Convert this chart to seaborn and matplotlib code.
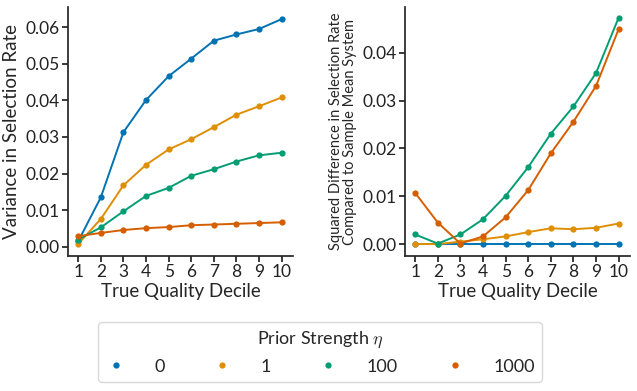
import pandas as pd
import matplotlib.pyplot as plt
import seaborn as sns
from matplotlib.lines import Line2D

deciles = list(range(1, 11))
strengths = ["0", "1", "100", "1000"]

# variance in selection rate
var_0 = [0.0015, 0.0135, 0.0313, 0.0401, 0.0466, 0.0514, 0.0563, 0.0580, 0.0595, 0.0622]
var_1 = [0.0008, 0.0076, 0.0168, 0.0224, 0.0266, 0.0294, 0.0327, 0.0361, 0.0384, 0.0408]
var_100 = [0.0020, 0.0053, 0.0097, 0.0139, 0.0161, 0.0194, 0.0212, 0.0233, 0.0250, 0.0257]
var_1000 = [0.0029, 0.0038, 0.0046, 0.0051, 0.0054, 0.0059, 0.0061, 0.0063, 0.0065, 0.0067]

# squared difference vs sample mean system
sq_0 = [0.0, 0.0, 0.0, 0.0, 0.0, 0.0, 0.0, 0.0, 0.0, 0.0]
sq_1 = [0.0, 0.0, 0.0005, 0.0010, 0.0016, 0.0025, 0.0033, 0.0031, 0.0034, 0.0043]
sq_100 = [0.0020, 0.0001, 0.0020, 0.0052, 0.0101, 0.0161, 0.0231, 0.0288, 0.0358, 0.0474]
sq_1000 = [0.0107, 0.0045, 0.0001, 0.0016, 0.0056, 0.0113, 0.0190, 0.0256, 0.0331, 0.0450]


def long_frame(series):
    rows = []
    for eta, vals in zip(strengths, series):
        for d, v in zip(deciles, vals):
            rows.append({"decile": d, "value": v, "eta": eta})
    return pd.DataFrame(rows)


def plot_graphs():
    sns.set_theme(style="ticks")
    plt.rcParams['font.family'] = ['Lato', 'DejaVu Sans']
    plt.rcParams['mathtext.fontset'] = 'cm'
    colors = sns.color_palette("colorblind", 4)

    fig = plt.figure(figsize=(6.37, 3.91), dpi=100)
    ax1 = fig.add_axes([68 / 637, 1 - 256 / 391, 225 / 637, 249 / 391])
    ax2 = fig.add_axes([405 / 637, 1 - 256 / 391, 225 / 637, 249 / 391])

    df1 = long_frame([var_0, var_1, var_100, var_1000])
    df2 = long_frame([sq_0, sq_1, sq_100, sq_1000])

    for ax, df in [(ax1, df1), (ax2, df2)]:
        sns.lineplot(data=df, x="decile", y="value", hue="eta", hue_order=strengths,
                     palette=colors, marker="o", markersize=4.5, markeredgewidth=0,
                     linewidth=1.4, legend=False, ax=ax)
        ax.set_xticks(deciles)
        ax.set_xlim(0.55, 10.5)
        ax.tick_params(labelsize=12.5, length=4, pad=2, colors="#222222")
        ax.set_xlabel("True Quality Decile", fontsize=13.5, labelpad=2)
        sns.despine(ax=ax)

    ax1.set_ylim(-0.0025, 0.0655)
    ax1.set_yticks([0, 0.01, 0.02, 0.03, 0.04, 0.05, 0.06])
    ax1.set_ylabel("Variance in Selection Rate", fontsize=13.5, labelpad=4)

    ax2.set_ylim(-0.0025, 0.0496)
    ax2.set_yticks([0, 0.01, 0.02, 0.03, 0.04])
    ax2.set_ylabel("Squared Difference in Selection Rate\nCompared to Sample Mean System",
                   fontsize=10.5, labelpad=4, linespacing=1.0)

    handles = [Line2D([], [], linestyle="none", marker="o", markersize=4.5,
                      markeredgewidth=0, color=c) for c in colors]
    leg = fig.legend(handles, strengths, loc="center", bbox_to_anchor=(320 / 637, 1 - 352 / 391),
                     ncol=4, title=r"Prior Strength $\eta$", fontsize=13, title_fontsize=13,
                     columnspacing=2.6, handletextpad=1.5, handlelength=1.2,
                     frameon=True, borderpad=0.4, borderaxespad=0)
    leg.get_frame().set_edgecolor("#d0d0d0")

    plt.savefig("out.png", dpi=100)
    plt.close()


if __name__ == "__main__":
    plot_graphs()
